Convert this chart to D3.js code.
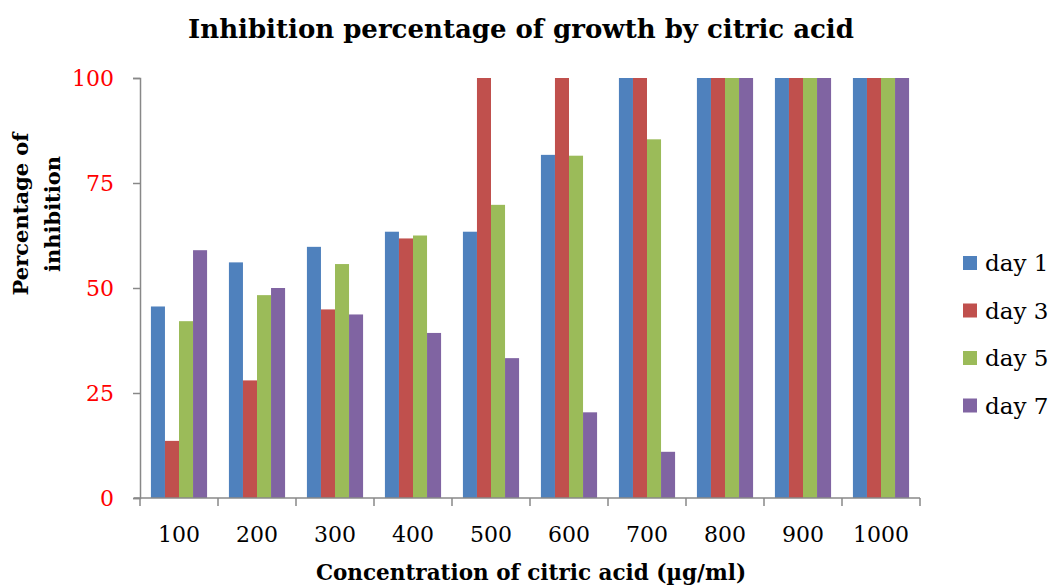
<!DOCTYPE html>
<html>
<head>
<meta charset="utf-8">
<script src="https://cdn.jsdelivr.net/npm/d3@7"></script>
<style>
  html, body { margin: 0; padding: 0; background: #fff; }
  svg { display: block; }
  text { font-family: "DejaVu Serif", "Liberation Serif", serif; }
</style>
</head>
<body>
<svg id="chart" width="1051" height="586"></svg>
<script>
// Concentrations of citric acid (µg/ml)
const categories = ["100", "200", "300", "400", "500", "600", "700", "800", "900", "1000"];
const seriesNames = ["day 1", "day 3", "day 5", "day 7"];
const seriesColors = ["#4F81BD", "#C0504D", "#9BBB59", "#8064A2"];
// Percentage of inhibition per day
const day1 = [45.6, 56.1, 59.8, 63.4, 63.4, 81.7, 100, 100, 100, 100];
const day3 = [13.6, 28.0, 44.9, 61.8, 100, 100, 100, 100, 100, 100];
const day5 = [42.1, 48.3, 55.7, 62.5, 69.8, 81.5, 85.4, 100, 100, 100];
const day7 = [59.0, 50.0, 43.7, 39.3, 33.3, 20.4, 11.0, 100, 100, 100];
const yTicks = [0, 25, 50, 75, 100];

const series = [day1, day3, day5, day7];

const svg = d3.select("#chart");
const plot = { left: 140, right: 920, top: 78, bottom: 498 };

const x0 = d3.scaleBand()
  .domain(categories)
  .range([plot.left, plot.right])
  .paddingInner(0.28)
  .paddingOuter(0.14);

const x1 = d3.scaleBand()
  .domain(seriesNames)
  .range([0, x0.bandwidth()]);

const y = d3.scaleLinear().domain([0, 100]).range([plot.bottom, plot.top]);

// Title
svg.append("text")
  .attr("x", 521).attr("y", 38)
  .attr("text-anchor", "middle")
  .attr("font-size", 26)
  .attr("font-weight", "bold")
  .attr("fill", "#000")
  .text("Inhibition percentage of growth by citric acid");

// Bars
const groups = svg.append("g").selectAll("g")
  .data(categories)
  .join("g")
  .attr("transform", d => `translate(${x0(d)},0)`);

groups.selectAll("rect")
  .data((c, i) => seriesNames.map((s, k) => ({ s, k, v: series[k][i] })))
  .join("rect")
  .attr("x", d => x1(d.s))
  .attr("y", d => y(d.v))
  .attr("width", x1.bandwidth())
  .attr("height", d => y(0) - y(d.v))
  .attr("fill", d => seriesColors[d.k]);

// Y axis
const yAxis = svg.append("g")
  .attr("transform", `translate(${plot.left},0)`)
  .call(d3.axisLeft(y).tickValues(yTicks).tickSize(7).tickPadding(19));
yAxis.select(".domain").attr("stroke", "#888").attr("stroke-width", 1.5);
yAxis.selectAll(".tick line").attr("stroke", "#888").attr("stroke-width", 1.5);
yAxis.selectAll(".tick text")
  .attr("fill", "#FF0000")
  .attr("font-size", 22)
  .style("font-family", "'DejaVu Serif', serif");

// X axis: boundary ticks between categories
const xAxis = svg.append("g");
xAxis.append("line")
  .attr("x1", plot.left - 6).attr("x2", plot.right)
  .attr("y1", plot.bottom).attr("y2", plot.bottom)
  .attr("stroke", "#888").attr("stroke-width", 1.5);
const bounds = categories.map(c => x0(c) - x0.step() * x0.paddingOuter()).concat([plot.right]);
xAxis.selectAll("line.tick")
  .data(bounds)
  .join("line")
  .attr("class", "tick")
  .attr("x1", d => d).attr("x2", d => d)
  .attr("y1", plot.bottom).attr("y2", plot.bottom + 8)
  .attr("stroke", "#888").attr("stroke-width", 1.5);
xAxis.selectAll("text")
  .data(categories)
  .join("text")
  .attr("x", d => x0(d) + x0.bandwidth() / 2)
  .attr("y", 542)
  .attr("text-anchor", "middle")
  .attr("font-size", 22)
  .text(d => d);

// Axis titles
svg.append("text")
  .attr("x", 531).attr("y", 580)
  .attr("text-anchor", "middle")
  .attr("font-size", 21.5)
  .attr("font-weight", "bold")
  .text("Concentration of citric acid (µg/ml)");

const yTitle = svg.append("text")
  .attr("transform", "translate(0,214) rotate(-90)")
  .attr("text-anchor", "middle")
  .attr("font-size", 21)
  .attr("font-weight", "bold");
yTitle.append("tspan").attr("x", 0).attr("y", 28).text("Percentage of");
yTitle.append("tspan").attr("x", 0).attr("y", 60).text("inhibition");

// Legend
const legend = svg.append("g").selectAll("g")
  .data(seriesNames)
  .join("g")
  .attr("transform", (d, i) => `translate(963,${256 + i * 47.5})`);
legend.append("rect")
  .attr("width", 14).attr("height", 14)
  .attr("fill", (d, i) => seriesColors[i]);
legend.append("text")
  .attr("x", 22).attr("y", 15)
  .attr("font-size", 23)
  .text(d => d);
</script>
</body>
</html>
